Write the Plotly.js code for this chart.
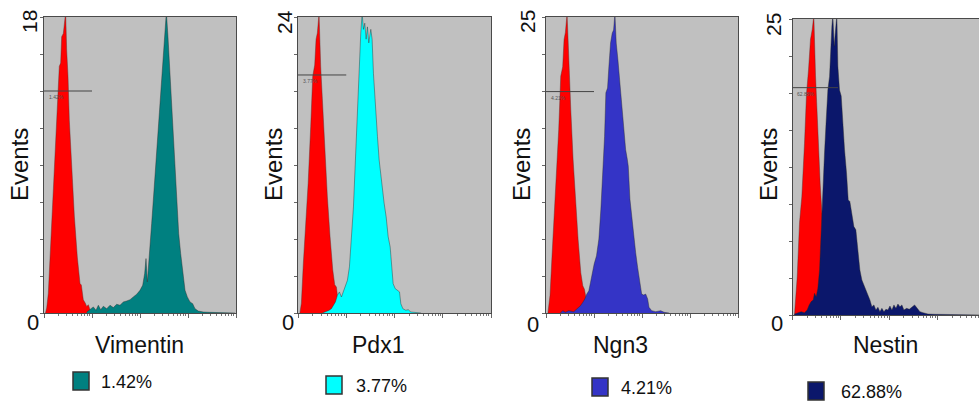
<!DOCTYPE html>
<html><head><meta charset="utf-8">
<script src="https://cdn.plot.ly/plotly-3.0.1.min.js"></script>
<style>html,body{margin:0;padding:0;overflow:hidden;background:#fff;width:979px;height:403px}</style>
</head><body><div id="chart" style="width:990px;height:403px"></div>
<script>
// ---- data (x = log10 fluorescence channel, y = events) ----
const markers = ["Vimentin", "Pdx1", "Ngn3", "Nestin"];
const percentLabels = ["1.42%", "3.77%", "4.21%", "62.88%"];
const yMax = [18, 24, 25, 25];
const gateLevel = [13.5, 19.3, 18.7, 19.2];
const gateEnd = [1, 1, 1, 0.94];
const sampleColors = ["#008080", "#00ffff", "#3434c6", "#0b176b"];

const ctrl1X = [0.03,0.056,0.09,0.139,0.181,0.229,0.278,0.319,0.347,0.368,0.403,0.431,0.451,0.472,0.5,0.528,0.576,0.632,0.694,0.75,0.778,0.819,0.861,0.889,0.924,0.958,1.014,1.06];
const ctrl1Y = [0,0.3,1.2,4.2,6.3,9.3,12.4,15.0,15.2,16.8,17.0,17.6,18.3,16.0,14.4,11.7,8.7,5.9,3.4,1.8,1.7,0.8,0.6,0.4,0.5,0.2,0.1,0];
const vimX = [0.889,0.958,1.028,1.083,1.132,1.181,1.236,1.306,1.375,1.444,1.514,1.583,1.653,1.722,1.792,1.861,1.931,2.0,2.056,2.097,2.125,2.153,2.194,2.243,2.292,2.347,2.396,2.438,2.486,2.521,2.549,2.583,2.625,2.667,2.708,2.764,2.806,2.847,2.889,2.938,2.986,3.042,3.097,3.146,3.215,3.319,3.458,3.667,3.98];
const vimY = [0.06,0.2,0.37,0.16,0.47,0.2,0.41,0.26,0.47,0.33,0.53,0.47,0.67,0.73,0.81,0.98,1.14,1.38,1.69,2.4,3.31,1.89,3.82,5.44,7.48,9.91,11.95,13.98,15.8,17.2,18.3,16.8,14.4,12.15,9.9,7.07,4.83,3.62,2.4,1.38,0.98,0.67,0.57,0.26,0.12,0.06,0.04,0.02,0];

const ctrl2X = [0.04,0.07,0.11,0.16,0.21,0.263,0.305,0.346,0.374,0.401,0.436,0.47,0.505,0.554,0.609,0.664,0.72,0.761,0.796,0.83,0.872,0.92,0.99,1.06];
const ctrl2Y = [0,0.8,4.0,7.3,10.5,15.1,19.2,20.1,22.2,22.7,24.3,20.0,17.0,13.2,9.4,6.2,3.5,2.3,2.1,1.0,0.5,0.2,0.1,0];
const pdxX = [0.505,0.574,0.644,0.692,0.734,0.775,0.817,0.858,0.9,0.941,0.983,1.024,1.066,1.107,1.149,1.19,1.232,1.266,1.301,1.329,1.356,1.384,1.412,1.439,1.467,1.509,1.536,1.564,1.606,1.647,1.682,1.716,1.751,1.785,1.827,1.869,1.91,1.945,1.972,2.014,2.062,2.104,2.131,2.173,2.235,2.284,2.339,2.443,2.55];
const pdxY = [0,0.08,0.22,0.35,0.62,0.89,1.44,1.71,1.3,1.71,2.11,2.65,3.74,5.9,8.6,12.4,16.5,20.5,22.7,24.3,23.0,23.5,22.2,23.2,21.9,23.0,22.2,19.4,16.5,14.3,12.4,11.05,9.7,8.9,7.8,6.18,5.36,4.0,2.38,1.98,1.84,1.71,0.76,0.35,0.22,0.27,0.08,0.03,0];

const ctrl3X = [0.04,0.084,0.125,0.174,0.223,0.265,0.307,0.348,0.376,0.404,0.439,0.474,0.516,0.564,0.613,0.669,0.725,0.767,0.801,0.836,0.878,0.927,0.997,1.066];
const ctrl3Y = [0,1.5,4.8,8.2,12.1,15.5,20.0,20.8,23.1,23.7,25.3,21.1,17.2,13.0,9.3,6.2,3.4,2.3,2.0,1.2,0.8,0.4,0.2,0];
const ngnX = [0.3,0.348,0.404,0.474,0.578,0.648,0.718,0.767,0.808,0.85,0.892,0.927,0.962,1.003,1.052,1.101,1.143,1.185,1.22,1.247,1.282,1.31,1.345,1.38,1.408,1.436,1.463,1.498,1.533,1.575,1.624,1.659,1.693,1.714,1.749,1.784,1.826,1.868,1.909,1.951,1.993,2.035,2.077,2.118,2.146,2.202,2.286,2.39,2.46,2.564];
const ngnY = [0,0.2,0.06,0.2,0.11,0.34,0.62,0.9,1.18,1.6,1.88,2.58,3.43,4.13,4.83,6.24,8.76,12.1,14.9,18.6,19.0,20.8,22.8,23.65,23.9,25.3,22.8,21.4,19.7,17.75,15.8,13.8,13.0,12.4,9.6,8.2,6.8,5.1,3.85,2.87,1.6,1.52,1.6,1.18,0.48,0.2,0.11,0.2,0.06,0];

const ctrl4X = [0.041,0.069,0.097,0.145,0.193,0.248,0.29,0.331,0.372,0.407,0.441,0.476,0.524,0.572,0.621,0.662,0.703,0.745,0.8,0.869];
const ctrl4Y = [0,1.3,3.2,7.8,10.0,14.5,18.7,20.7,23.3,24.1,25.3,20.2,15.1,11.1,7.8,4.9,2.7,1.3,0.4,0];
const nesX = [0.041,0.11,0.179,0.248,0.303,0.345,0.386,0.428,0.455,0.49,0.524,0.559,0.593,0.628,0.662,0.697,0.731,0.766,0.786,0.814,0.834,0.862,0.89,0.917,0.938,0.972,1.007,1.041,1.076,1.117,1.152,1.186,1.228,1.269,1.31,1.352,1.393,1.434,1.476,1.517,1.559,1.6,1.641,1.683,1.724,1.766,1.807,1.848,1.89,1.931,1.972,2.014,2.055,2.097,2.138,2.179,2.221,2.262,2.303,2.359,2.414,2.469,2.524,2.579,2.634,2.697,2.8,2.938,3.214,4.0];
const nesY = [0.08,0.2,0.28,0.2,0.42,0.85,1.13,1.27,1.83,1.55,2.25,3.8,7.47,10.85,13.7,16.5,19.0,20.15,22.4,24.4,25.3,22.7,24.1,25.3,21.0,19.0,18.5,15.9,13.95,12.0,9.72,9.58,8.3,7.47,7.19,5.5,3.8,2.96,2.54,2.11,1.55,1.27,0.7,0.85,0.42,0.65,0.28,0.56,0.28,0.48,0.42,0.76,0.42,0.85,0.56,0.93,0.7,0.85,0.42,0.56,0.48,0.65,0.85,0.56,0.28,0.2,0.08,0.06,0.03,0];

const controls = [[ctrl1X, ctrl1Y], [ctrl2X, ctrl2Y], [ctrl3X, ctrl3Y], [ctrl4X, ctrl4Y]];
const samples = [[vimX, vimY], [pdxX, pdxY], [ngnX, ngnY], [nesX, nesY]];

// ---- layout geometry (pixels) ----
const W = 990, H = 403;
const plotLeft = [44, 298, 546, 792.5];
const plotRight = [236, 491, 738, 986];
const plotTop = [17, 17, 17, 19];
const plotBottom = [313, 313, 313, 315];
const eventsX = [19, 273, 521, 768];
const maxLabelX = [30, 285, 528, 773];
const maxLabelY = [22, 22, 22, 25];
const zeroX = [33, 288, 533, 777];
const zeroY = [322, 322, 324, 323];
const markerX = [139, 378, 620, 885];
const boxL = [73, 326, 592, 808], boxT = [372, 376, 378, 382];
const pctX = [99, 354, 619, 839];

const px = v => v / W;
const py = v => 1 - v / H;

const traces = [];
const layout = {
  width: W, height: H,
  margin: {l: 0, r: 0, t: 0, b: 0},
  paper_bgcolor: "#ffffff",
  plot_bgcolor: "#c0c0c0",
  showlegend: false,
  font: {family: "Liberation Sans, Arial, sans-serif", color: "#111"},
  annotations: [], shapes: []
};

const majorX = [0, 1, 2, 3, 4];
const minorX = [];
for (let d = 0; d < 4; d++) for (let k = 2; k <= 9; k++) minorX.push(d + Math.log10(k));

for (let i = 0; i < 4; i++) {
  const s = i === 0 ? "" : String(i + 1);
  const xa = "x" + s, ya = "y" + s;
  traces.push({x: controls[i][0], y: controls[i][1], xaxis: xa, yaxis: ya, type: "scatter", mode: "lines",
    fill: "tozeroy", fillcolor: "#ff0000", line: {color: "rgba(90,40,40,0.7)", width: 0.6}, hoverinfo: "skip"});
  traces.push({x: samples[i][0], y: samples[i][1], xaxis: xa, yaxis: ya, type: "scatter", mode: "lines",
    fill: "tozeroy", fillcolor: sampleColors[i], line: {color: "rgba(40,40,40,0.7)", width: 0.6}, hoverinfo: "skip"});

  const yt = [];
  for (let k = 0; k <= 8; k++) yt.push(yMax[i] * k / 8);

  layout["xaxis" + s] = {
    domain: [px(plotLeft[i]), px(plotRight[i])], anchor: ya, range: [0, 4],
    showgrid: false, zeroline: false, showline: true, mirror: true, linecolor: "#4a4a4a", linewidth: 1,
    tickmode: "array", tickvals: majorX, ticks: "outside", ticklen: 4, tickcolor: "#666", showticklabels: false,
    minor: {tickmode: "array", tickvals: minorX, ticks: "outside", ticklen: 2, tickcolor: "#777"}
  };
  layout["yaxis" + s] = {
    domain: [py(plotBottom[i]), py(plotTop[i])], anchor: xa, range: [0, yMax[i]],
    showgrid: false, zeroline: false, showline: true, mirror: true, linecolor: "#4a4a4a", linewidth: 1,
    tickmode: "array", tickvals: yt, ticks: "outside", ticklen: 3, tickcolor: "#666", showticklabels: false
  };

  // gate marker
  layout.shapes.push({type: "line", xref: xa, yref: ya, x0: 0, x1: gateEnd[i], y0: gateLevel[i], y1: gateLevel[i],
    line: {color: "#444", width: 1}});
  layout.annotations.push({xref: xa, yref: ya, x: 0.06, y: gateLevel[i], yshift: -6, xanchor: "left", yanchor: "middle",
    text: percentLabels[i], showarrow: false, font: {size: 5, color: "#555"}});

  // axis texts
  layout.annotations.push({xref: "paper", yref: "paper", x: px(eventsX[i]), y: py(165), text: "Events", textangle: -90,
    showarrow: false, xanchor: "center", yanchor: "middle", font: {size: 24, color: "#111"}});
  layout.annotations.push({xref: "paper", yref: "paper", x: px(maxLabelX[i]), y: py(maxLabelY[i]), text: String(yMax[i]), textangle: -90,
    showarrow: false, xanchor: "center", yanchor: "middle", font: {size: 21, color: "#111"}});
  layout.annotations.push({xref: "paper", yref: "paper", x: px(zeroX[i]), y: py(zeroY[i]), text: "0",
    showarrow: false, xanchor: "center", yanchor: "middle", font: {size: 22, color: "#111"}});
  layout.annotations.push({xref: "paper", yref: "paper", x: px(markerX[i]), y: py(345), text: markers[i],
    showarrow: false, xanchor: "center", yanchor: "middle", font: {size: 23, color: "#111"}});

  // legend swatch
  layout.shapes.push({type: "rect", xref: "paper", yref: "paper", x0: px(boxL[i]), x1: px(boxL[i] + 16),
    y0: py(boxT[i] + 18), y1: py(boxT[i]), fillcolor: sampleColors[i], line: {color: "#333", width: 1.5}});
  layout.annotations.push({xref: "paper", yref: "paper", x: px(pctX[i]), y: py(boxT[i] + 10), text: percentLabels[i],
    showarrow: false, xanchor: "left", yanchor: "middle", font: {size: 18, color: "#111"}});
}

Plotly.newPlot("chart", traces, layout, {staticPlot: true, displayModeBar: false});
</script>
</body></html>
